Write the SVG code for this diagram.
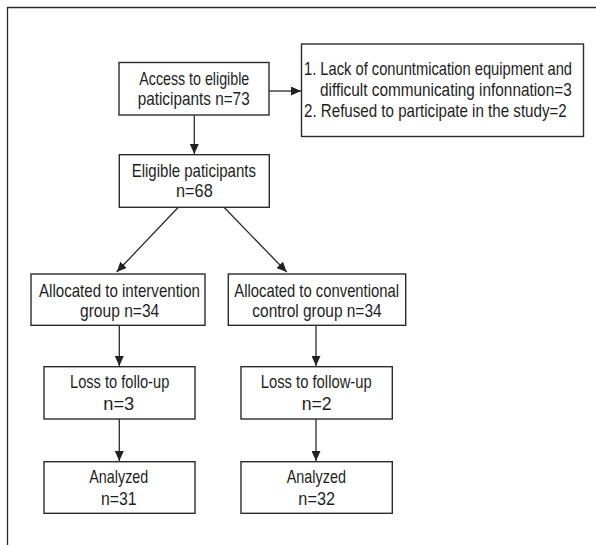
<svg xmlns="http://www.w3.org/2000/svg" width="596" height="545" viewBox="0 0 596 545">
<style>
.box{fill:#fff;stroke:#2b2b2b;stroke-width:1.4}
.t{font-family:"Liberation Sans",Arial,sans-serif;font-size:18.5px;fill:#1e1e1e}
.c{stroke:#2b2b2b;stroke-width:1.3;fill:none;marker-end:url(#ah)}
.frame{stroke:#2b2b2b;stroke-width:1.3;fill:none}
</style>
<defs>
<marker id="ah" markerWidth="10" markerHeight="9" refX="10" refY="4.5" orient="auto" markerUnits="userSpaceOnUse">
<path d="M0,0 L10,4.5 L0,9 Z" fill="#222"/>
</marker>
</defs>
<rect width="596" height="545" fill="#fff"/>
<path class="frame" d="M7.5,545 V7.5 H596"/>
<g id="connectors">
<path class="c" d="M194.3,115 V154"/>
<path class="c" d="M269,91 H301"/>
<path class="c" d="M178.3,207.3 L116.7,272"/>
<path class="c" d="M224,207.3 L286.7,272"/>
<path class="c" d="M119.3,325.3 V366"/>
<path class="c" d="M119.3,419 V461"/>
<path class="c" d="M316,325.3 V366"/>
<path class="c" d="M316,419 V461"/>
</g>
<g id="access">
<rect class="box" x="119" y="62.5" width="150" height="52.5"/>
<text class="t" transform="scale(0.8,1)" x="174.1" y="85" textLength="137.5" lengthAdjust="spacingAndGlyphs">Access to eligible</text>
<text class="t" transform="scale(0.8,1)" x="172.1" y="105" textLength="140" lengthAdjust="spacingAndGlyphs">paticipants n=73</text>
</g>
<g id="excluded">
<rect class="box" x="301.5" y="44" width="282" height="92.5"/>
<text class="t" transform="scale(0.8,1)" x="380" y="75" textLength="335" lengthAdjust="spacingAndGlyphs">1. Lack of conuntmication equipment and</text>
<text class="t" transform="scale(0.8,1)" x="400" y="96" textLength="314.6" lengthAdjust="spacingAndGlyphs">difficult communicating infonnation=3</text>
<text class="t" transform="scale(0.8,1)" x="380" y="117.3" textLength="328.4" lengthAdjust="spacingAndGlyphs">2. Refused to participate in the study=2</text>
</g>
<g id="eligible">
<rect class="box" x="119.3" y="154.7" width="150" height="52.6"/>
<text class="t" transform="scale(0.8,1)" x="164.6" y="177.3" textLength="155.4" lengthAdjust="spacingAndGlyphs">Eligible paticipants</text>
<text class="t" transform="scale(0.8,1)" x="220" y="197.3" textLength="45.9" lengthAdjust="spacingAndGlyphs">n=68</text>
</g>
<g id="alloc-int">
<rect class="box" x="31" y="274" width="174" height="51.3"/>
<text class="t" transform="scale(0.8,1)" x="48.75" y="296.7" textLength="201.25" lengthAdjust="spacingAndGlyphs">Allocated to intervention</text>
<text class="t" transform="scale(0.8,1)" x="100" y="316.7" textLength="99.1" lengthAdjust="spacingAndGlyphs">group n=34</text>
</g>
<g id="alloc-ctrl">
<rect class="box" x="228.3" y="274" width="177.4" height="51.3"/>
<text class="t" transform="scale(0.8,1)" x="292.9" y="296.7" textLength="205.9" lengthAdjust="spacingAndGlyphs">Allocated to conventional</text>
<text class="t" transform="scale(0.8,1)" x="315.4" y="316.7" textLength="161.6" lengthAdjust="spacingAndGlyphs">control group n=34</text>
</g>
<g id="loss-int">
<rect class="box" x="44" y="366.7" width="151" height="52.3"/>
<text class="t" transform="scale(0.8,1)" x="87.5" y="388.3" textLength="124.1" lengthAdjust="spacingAndGlyphs">Loss to follo-up</text>
<text class="t" transform="scale(0.8,1)" x="129.1" y="410" textLength="38.75" lengthAdjust="spacingAndGlyphs">n=3</text>
</g>
<g id="loss-ctrl">
<rect class="box" x="241" y="366.7" width="151.3" height="52.3"/>
<text class="t" transform="scale(0.8,1)" x="325.9" y="388.3" textLength="138.75" lengthAdjust="spacingAndGlyphs">Loss to follow-up</text>
<text class="t" transform="scale(0.8,1)" x="377.1" y="410" textLength="37.5" lengthAdjust="spacingAndGlyphs">n=2</text>
</g>
<g id="analyzed-int">
<rect class="box" x="44" y="461.7" width="151" height="51.6"/>
<text class="t" transform="scale(0.8,1)" x="111.6" y="483.3" textLength="73.75" lengthAdjust="spacingAndGlyphs">Analyzed</text>
<text class="t" transform="scale(0.8,1)" x="126.25" y="505" textLength="44.6" lengthAdjust="spacingAndGlyphs">n=31</text>
</g>
<g id="analyzed-ctrl">
<rect class="box" x="241" y="461.7" width="151.3" height="51.6"/>
<text class="t" transform="scale(0.8,1)" x="358.4" y="483.3" textLength="74.1" lengthAdjust="spacingAndGlyphs">Analyzed</text>
<text class="t" transform="scale(0.8,1)" x="372.9" y="505" textLength="45.9" lengthAdjust="spacingAndGlyphs">n=32</text>
</g>
</svg>
